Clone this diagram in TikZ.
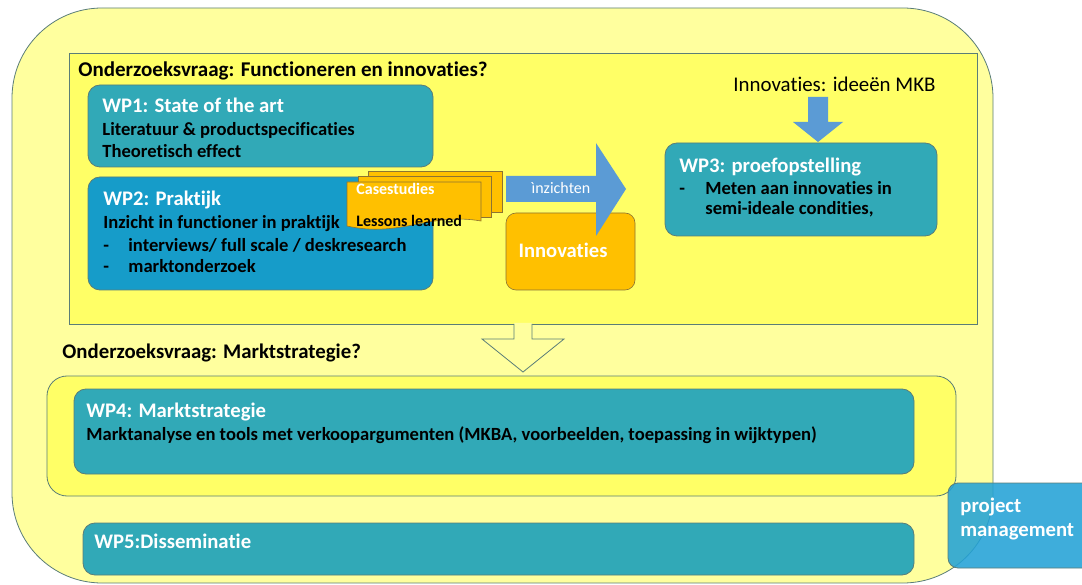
\documentclass[tikz,border=0pt]{standalone}
\usepackage{fontspec}
\setmainfont[Ligatures=NoCommon]{Carlito}
\usetikzlibrary{positioning}
\definecolor{paleyellow}{RGB}{255,255,158}
\definecolor{brightyellow}{RGB}{255,255,102}
\definecolor{tealbox}{RGB}{49,169,183}
\definecolor{praktijkblue}{RGB}{22,156,201}
\definecolor{orangebox}{RGB}{255,192,0}
\definecolor{arrowblue}{RGB}{91,155,213}
\definecolor{pmblue}{RGB}{35,162,214}
\definecolor{edgegray}{RGB}{90,125,120}
\definecolor{docedge}{RGB}{140,115,50}

\begin{document}
\begin{tikzpicture}[x=1pt, y=-1pt,
    line width=0.8pt,
    wpbox/.style={draw=edgegray, fill=tealbox, rounded corners=12pt, inner sep=0pt},
    wptitle/.style={anchor=base west, inner sep=0pt, text=white, font=\fontsize{20.7}{24}\selectfont\bfseries},
    wptext/.style={anchor=base west, inner sep=0pt, font=\fontsize{18.6}{22}\selectfont\bfseries},
    question/.style={anchor=base west, inner sep=0pt, font=\fontsize{21}{24}\selectfont\bfseries},
    docsheet/.style={draw=docedge, fill=orangebox, line width=0.6pt}
]
    \useasboundingbox (0,0) rectangle (1082,585);

    % Frames
    \node[draw=edgegray, fill=paleyellow, rounded corners=90pt, minimum width=981pt, minimum height=575pt] (outer) at (502.5,295.5) {};
    \node[draw=edgegray, fill=brightyellow, minimum width=908pt, minimum height=271pt] (topframe) at (523,188.5) {};
    \fill[paleyellow] (514,323) -- (514,339) -- (482,339) -- (523,372) -- (564,339) -- (532,339) -- (532,323) -- cycle;
    \draw[edgegray] (514,324) -- (514,339) -- (482,339) -- (523,372) -- (564,339) -- (532,339) -- (532,324);
    \node[draw=edgegray, fill=brightyellow, rounded corners=20pt, minimum width=909pt, minimum height=120pt] (midframe) at (501.5,436) {};

    % Onderzoeksvraag 1
    \node[question] (q1) at (78,77) {Onderzoeksvraag: Functioneren en innovaties?};

    \node[wpbox, minimum width=345pt, minimum height=82pt] (wp1) at (260.5,126) {};
    \node[wptitle] (wp1title) at (102,113) {WP1: State of the art};
    \node[wptext] (wp1a) at (102,136) {Literatuur \& productspecificaties};
    \node[wptext] (wp1b) at (102,158) {Theoretisch effect};

    \node[wpbox, fill=praktijkblue, minimum width=345pt, minimum height=113pt] (wp2) at (260.5,233.5) {};
    \node[wptitle] (wp2title) at (103,206) {WP2: Praktijk};
    \node[wptext] (wp2a) at (103,229) {Inzicht in functioner in praktijk};
    \node[wptext] (wp2b) at (103,252) {-};
    \node[wptext] (wp2c) at (128,252) {interviews/ full scale / deskresearch};
    \node[wptext] (wp2d) at (103,273) {-};
    \node[wptext] (wp2e) at (128,273) {marktonderzoek};

    % Casestudies (stacked sheets)
    \draw[docsheet] (368,171) rectangle (502,212);
    \draw[docsheet] (358,176) rectangle (491,217);
    \draw[docsheet] (347,182) -- (481,182) -- (481,221) .. controls (430,212) and (400,238) .. (347,226) -- cycle;
    \node[anchor=base west, inner sep=0pt, text=white, font=\fontsize{16}{18}\selectfont\bfseries] (cases) at (356,195) {Casestudies};
    \node[anchor=base west, inner sep=0pt, font=\fontsize{16}{18}\selectfont\bfseries] (lessons) at (356,227) {Lessons learned};

    % Innovaties
    \node[draw=docedge, fill=orangebox, rounded corners=10pt, line width=0.6pt, minimum width=129pt, minimum height=77pt] (innov) at (570.5,251.5) {};
    \node[anchor=base, inner sep=0pt, text=white, font=\fontsize{20.6}{23}\selectfont\bfseries] (innovtext) at (563,258) {Innovaties};
    \fill[arrowblue] (506,176) -- (596,176) -- (596,143) -- (626,189) -- (596,236) -- (596,202) -- (506,202) -- cycle;
    \node[anchor=base, inner sep=0pt, text=white, font=\fontsize{16}{18}\selectfont] (inzichten) at (561,194) {ìnzichten};

    % WP3
    \node[anchor=base west, inner sep=0pt, font=\fontsize{20.9}{24}\selectfont] (ideeen) at (733,92) {Innovaties: ideeën MKB};
    \fill[arrowblue] (808,97) -- (808,122) -- (793,122) -- (818,142) -- (843,122) -- (828,122) -- (828,97) -- cycle;
    \node[wpbox, minimum width=272pt, minimum height=93pt] (wp3) at (801,189.5) {};
    \node[wptitle] (wp3title) at (679,173) {WP3: proefopstelling};
    \node[wptext] (wp3a) at (679,195) {-};
    \node[wptext] (wp3b) at (705,195) {Meten aan innovaties in};
    \node[wptext] (wp3c) at (705,215) {semi-ideale condities,};

    % Onderzoeksvraag 2
    \node[question, font=\fontsize{20.8}{24}\selectfont\bfseries] (q2) at (62,359) {Onderzoeksvraag: Marktstrategie?};
    \node[wpbox, minimum width=840pt, minimum height=85pt] (wp4) at (494,431.5) {};
    \node[wptitle] (wp4title) at (86,417) {WP4: Marktstrategie};
    \node[wptext] (wp4a) at (86,440) {Marktanalyse en tools met verkoopargumenten (MKBA, voorbeelden, toepassing in wijktypen)};

    % WP5 and project management
    \node[wpbox, minimum width=831pt, minimum height=52pt] (wp5) at (498.5,549) {};
    \node[wptitle] (wp5title) at (94,548) {WP5:Disseminatie};
    \node[draw=edgegray, fill=pmblue, fill opacity=0.88, rounded corners=10pt, minimum width=150pt, minimum height=85pt] (pm) at (1023,525.5) {};
    \node[wptitle] (pm1) at (960,512) {project};
    \node[wptitle] (pm2) at (960,536) {management};

\end{tikzpicture}
\end{document}
